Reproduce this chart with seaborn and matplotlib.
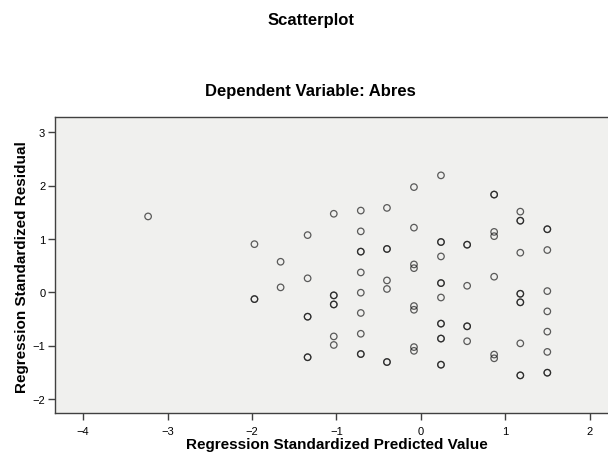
import matplotlib
matplotlib.use("Agg")
import matplotlib.pyplot as plt
import seaborn as sns
import pandas as pd

# Standardized predicted values (x) and standardized residuals (y).
# Points that look darker in the picture are drawn twice (tied cases).
predicted = [-3.23,
             -1.97, -1.97, -1.97,
             -1.66, -1.66,
             -1.34, -1.34, -1.34, -1.34, -1.34, -1.34,
             -1.03, -1.03, -1.03, -1.03, -1.03, -1.03, -1.03,
             -0.71, -0.71, -0.71, -0.71, -0.71, -0.71, -0.71, -0.71, -0.71, -0.71,
             -0.40, -0.40, -0.40, -0.40, -0.40, -0.40, -0.40,
             -0.08, -0.08, -0.08, -0.08, -0.08, -0.08, -0.08, -0.08,
             0.24, 0.24, 0.24, 0.24, 0.24, 0.24, 0.24, 0.24, 0.24, 0.24, 0.24, 0.24, 0.24,
             0.55, 0.55, 0.55, 0.55, 0.55, 0.55,
             0.87, 0.87, 0.87, 0.87, 0.87, 0.87, 0.87,
             1.18, 1.18, 1.18, 1.18, 1.18, 1.18, 1.18, 1.18, 1.18, 1.18, 1.18,
             1.50, 1.50, 1.50, 1.50, 1.50, 1.50, 1.50, 1.50, 1.50]
residual = [1.42,
            0.90, -0.13, -0.13,
            0.57, 0.09,
            1.07, 0.26, -0.46, -0.46, -1.22, -1.22,
            1.47, -0.06, -0.06, -0.23, -0.23, -0.83, -0.99,
            1.53, 1.14, 0.76, 0.76, 0.37, -0.01, -0.39, -0.78, -1.16, -1.16,
            1.58, 0.81, 0.81, 0.22, 0.06, -1.31, -1.31,
            1.97, 1.21, 0.52, 0.45, -0.26, -0.33, -1.03, -1.10,
            2.19, 0.94, 0.94, 0.67, 0.17, 0.17, -0.10, -0.59, -0.59, -0.87, -0.87, -1.36, -1.36,
            0.89, 0.89, 0.12, -0.64, -0.64, -0.92,
            1.83, 1.83, 1.13, 1.05, 0.29, -1.17, -1.24,
            1.51, 1.34, 1.34, 0.74, -0.03, -0.03, -0.19, -0.19, -0.96, -1.56, -1.56,
            1.18, 1.18, 0.79, 0.02, -0.36, -0.74, -1.12, -1.51, -1.51]

df = pd.DataFrame({"pred": predicted, "resid": residual})

x_ticks = [-4, -3, -2, -1, 0, 1, 2]
y_ticks = [-2, -1, 0, 1, 2, 3]

sns.set_style("white")
plt.rcParams["font.family"] = ["Liberation Sans", "DejaVu Sans"]
plt.rcParams["text.color"] = "black"
plt.rcParams["xtick.color"] = "black"
plt.rcParams["ytick.color"] = "black"
plt.rcParams["axes.labelcolor"] = "black"

fig = plt.figure(figsize=(6.08, 4.6), dpi=100)
ax = fig.add_axes([55 / 608, 46.3 / 460, 553 / 608, 296 / 460])
ax.set_facecolor("#f0f0ee")

sns.scatterplot(data=df, x="pred", y="resid", ax=ax, marker="o", s=22,
                facecolor="none", edgecolor="#1a1a1a", linewidth=0.9, alpha=0.7)

ax.set_xlim(-4.333, 2.219)
ax.set_ylim(-2.26, 3.29)
ax.set_xticks(x_ticks)
ax.set_yticks(y_ticks)
ax.tick_params(axis="both", direction="out", length=5, width=1, color="#404040",
               labelsize=8, pad=2, bottom=True, left=True)
ax.tick_params(axis="x", pad=4.5)

for side in ["left", "top", "bottom"]:
    ax.spines[side].set_color("#404040")
    ax.spines[side].set_linewidth(1)
ax.spines["right"].set_visible(False)

ax.set_xlabel("Regression Standardized Predicted Value", fontsize=11,
              fontweight="bold", va="center")
ax.set_ylabel("Regression Standardized Residual", fontsize=11,
              fontweight="bold", va="center")
ax.xaxis.set_label_coords((337 - 55) / 553, (413.7 - 445) / 296)
ax.yaxis.set_label_coords((22 - 55) / 553, (413.7 - 267) / 296)

fig.text(311 / 608, 1 - 21 / 460, "Scatterplot", ha="center", va="center",
         fontsize=12, fontweight="bold")
fig.text(310 / 608, 1 - 92 / 460, "Dependent Variable: Abres", ha="center",
         va="center", fontsize=12, fontweight="bold")

fig.savefig("out.png", dpi=100, facecolor="white")
